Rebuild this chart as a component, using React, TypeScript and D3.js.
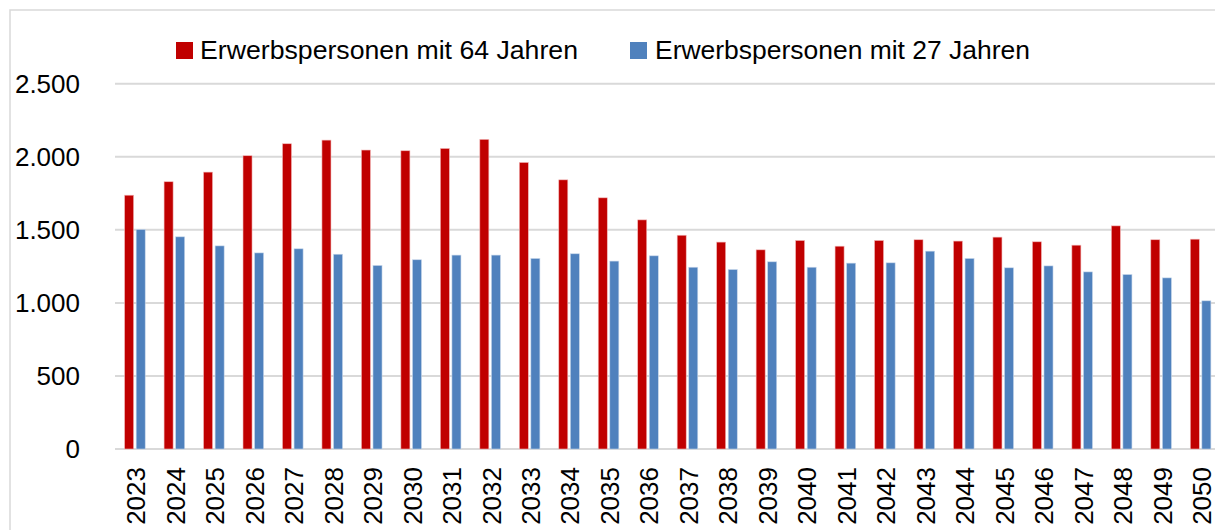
import React from "react";
import * as d3 from "d3";

const years = ["2023","2024","2025","2026","2027","2028","2029","2030","2031","2032","2033","2034","2035","2036","2037","2038","2039","2040","2041","2042","2043","2044","2045","2046","2047","2048","2049","2050"];
const age64 = [1737,1829,1895,2007,2089,2114,2046,2041,2057,2119,1961,1842,1719,1568,1463,1416,1363,1427,1388,1427,1432,1423,1450,1418,1395,1527,1432,1436];
const age27 = [1502,1452,1390,1342,1370,1333,1256,1295,1327,1327,1304,1336,1286,1322,1244,1228,1281,1244,1272,1274,1354,1304,1240,1253,1212,1194,1171,1014];
const yTicks = [0,500,1000,1500,2000,2500];
const seriesNames = ["Erwerbspersonen mit 64 Jahren","Erwerbspersonen mit 27 Jahren"];
const colors = ["#C00000","#4F81BD"];

const W = 1215, H = 530;
const FONT = "'Liberation Sans', Arial, sans-serif";

export default function App() {
  const x = d3.scaleBand<string>().domain(years).range([115, 115 + 28 * 39.47]).paddingInner(0).paddingOuter(0);
  const sub = d3.scaleBand<string>().domain(["a","b"]).range([9.6, 30.2]).paddingInner(0.22);
  const y = d3.scaleLinear().domain([0, 2500]).range([449, 83.7]);
  const fmt = (v: number) => d3.format(",")(v).replace(/,/g, ".");
  const series = [age64, age27];
  return (
    <svg width={W} height={H} style={{ position: "absolute", left: 0, top: 0, background: "#fff" }}>
      <rect x={0} y={0} width={W} height={H} fill="#fff" />
      <rect x={10} y={10} width={1240} height={560} fill="none" stroke="#d9d9d9" strokeWidth={1.5} />
      {yTicks.map((t) => (
        <g key={t}>
          <line x1={115} x2={W} y1={y(t)} y2={y(t)} stroke="#d9d9d9" strokeWidth={2} />
          <text x={80} y={y(t)} dy="0.36em" textAnchor="end" fontFamily={FONT} fontSize={26} fill="#000">{fmt(t)}</text>
        </g>
      ))}
      {series.map((vals, si) => (
        <g key={si}>
          {years.map((yr, i) => (
            <rect key={yr}
              x={(x(yr) as number) + (sub(si === 0 ? "a" : "b") as number)}
              y={y(vals[i])}
              width={sub.bandwidth()}
              height={y(0) - y(vals[i])}
              fill={colors[si]}
              stroke={si === 0 ? "#f2b8b8" : "#c6d6ea"}
              strokeWidth={0.6}
            />
          ))}
        </g>
      ))}
      {years.map((yr) => {
        const cx = (x(yr) as number) + x.bandwidth() / 2 + 1.2;
        return (
          <text key={yr} transform={`translate(${cx},467) rotate(-90)`} dy="0.36em" textAnchor="end" fontFamily={FONT} fontSize={26} fill="#000">{yr}</text>
        );
      })}
      <g>
        <rect x={176} y={42} width={17} height={17} fill={colors[0]} />
        <text x={200} y={59} fontFamily={FONT} fontSize={26} fill="#000" textLength={378} lengthAdjust="spacingAndGlyphs">{seriesNames[0]}</text>
        <rect x={630} y={42} width={17} height={17} fill={colors[1]} />
        <text x={655} y={59} fontFamily={FONT} fontSize={26} fill="#000" textLength={375} lengthAdjust="spacingAndGlyphs">{seriesNames[1]}</text>
      </g>
    </svg>
  );
}
